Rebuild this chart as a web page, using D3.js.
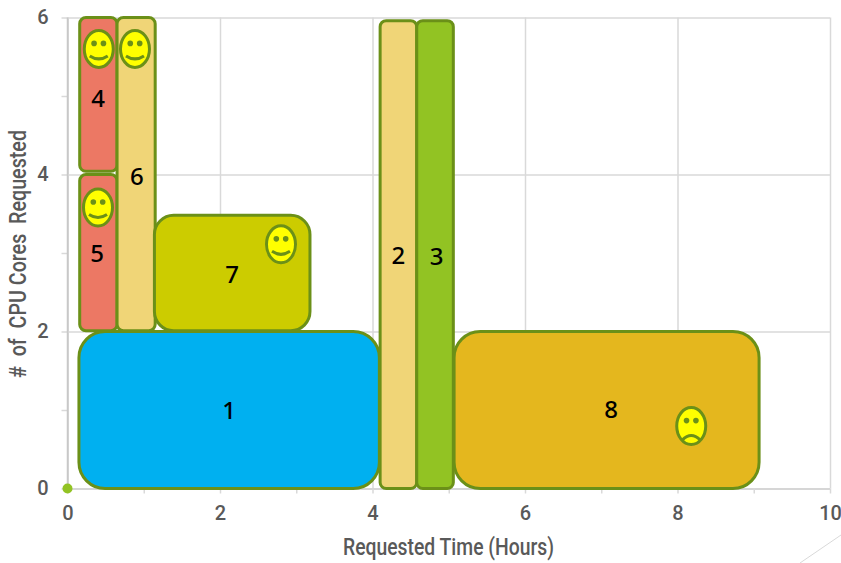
<!DOCTYPE html>
<html>
<head>
<meta charset="utf-8">
<script src="https://cdn.jsdelivr.net/npm/d3@7"></script>
<style>
  html, body { margin: 0; padding: 0; background: #fff; }
  svg { display: block; }
  .axis path { display: none; }
  .axis line { stroke: #d9d9d9; stroke-width: 1.5; }
  .axis text { font-family: Roboto, sans-serif; font-size: 20px; font-weight: 500; fill: #595959; }
  .title { font-family: Roboto, sans-serif; font-size: 23px; font-weight: 500; fill: #595959; }
  .label { font-family: "Noto Sans", sans-serif; font-size: 24px; font-weight: 500; fill: #000; text-anchor: middle; dominant-baseline: central; }
</style>
</head>
<body>
<div id="graph"></div>
<script>
var jobIds = [1, 2, 3, 4, 5, 6, 7, 8];
var xStart = [0.15, 4.1, 4.58, 0.16, 0.16, 0.65, 1.14, 5.07];
var xEnd = [4.09, 4.58, 5.06, 0.65, 0.65, 1.15, 3.18, 9.07];
var yStart = [0, 0, 0, 4.04, 2.01, 2.01, 2.01, 0];
var yEnd = [2, 5.96, 5.96, 6, 4, 6, 3.48, 2];
var fills = ["#00b0f0", "#f0d577", "#92c323", "#ec7864", "#ec7864", "#f0d577", "#cccc00", "#e4b71e"];
var labelX = [2.12, 4.34, 4.84, 0.4, 0.39, 0.91, 2.16, 7.13];
var labelY = [1.0, 2.97, 2.96, 4.97, 3.0, 3.98, 2.73, 1.01];

var faceX = [0.41, 0.885, 0.4, 2.8, 8.18];
var faceY = [5.6, 5.6, 3.58, 3.11, 0.795];
var faceHappy = [true, true, true, true, false];

var xTicks = [0, 2, 4, 6, 8, 10];
var xMinorTicks = [1, 3, 5, 7, 9];
var yTicks = [0, 2, 4, 6];
var yMinorTicks = [1, 3, 5];

var width = 841, height = 563;
var margin = { top: 17.5, left: 67.5, bottom: 74.5, right: 11 };
var chartWidth = width - margin.left - margin.right;
var chartHeight = height - margin.top - margin.bottom;
var edge = "#6b9018";

var svg = d3.select("#graph").append("svg").attr("width", width).attr("height", height);
var axisLayer = svg.append("g").attr("transform", "translate(" + [margin.left, margin.top] + ")");
var chartLayer = svg.append("g").attr("transform", "translate(" + [margin.left, margin.top] + ")");

var xScale = d3.scaleLinear().domain([0, 10]).range([0, chartWidth]);
var yScale = d3.scaleLinear().domain([0, 6]).range([chartHeight, 0]);

renderAxis();
renderBoxes();
renderFaces();
renderText();

function renderAxis() {
  // gridlines plus labelled ticks
  axisLayer.append("g").attr("class", "axis x")
    .attr("transform", "translate(0," + chartHeight + ")")
    .call(d3.axisBottom(xScale).tickValues(xTicks).tickFormat(d3.format("d")).tickSizeInner(-chartHeight).tickSizeOuter(0).tickPadding(17));
  axisLayer.append("g").attr("class", "axis y")
    .call(d3.axisLeft(yScale).tickValues(yTicks).tickFormat(d3.format("d")).tickSizeInner(-chartWidth).tickSizeOuter(0).tickPadding(19));

  // short tick stubs outside the plot
  axisLayer.append("g").attr("class", "axis")
    .attr("transform", "translate(0," + chartHeight + ")")
    .call(d3.axisBottom(xScale).tickValues(xTicks.concat(xMinorTicks)).tickSize(5).tickFormat(""));
  axisLayer.append("g").attr("class", "axis")
    .call(d3.axisLeft(yScale).tickValues(yTicks.concat(yMinorTicks)).tickSize(6).tickFormat(""));

  axisLayer.selectAll(".x .tick:first-of-type line, .y .tick:first-of-type line").style("stroke", "#c8c8c8");
  axisLayer.append("line").attr("x1", xScale(0)).attr("x2", xScale(0))
    .attr("y1", yScale(0)).attr("y2", yScale(6)).style("stroke", "#c8c8c8").style("stroke-width", 1.5);

  // origin dot
  chartLayer.append("circle").attr("cx", xScale(0)).attr("cy", yScale(0)).attr("r", 5).attr("fill", "#92c323");

  // stray line in the bottom right corner
  svg.append("line").attr("x1", 800).attr("y1", 563).attr("x2", 841).attr("y2", 535)
    .style("stroke", "#d9d9d9").style("stroke-width", 1);
}

function renderBoxes() {
  chartLayer.selectAll(".box").data(jobIds).enter().append("rect")
    .attr("class", "box")
    .attr("x", function(d, i) { return xScale(xStart[i]); })
    .attr("y", function(d, i) { return yScale(yEnd[i]); })
    .attr("width", function(d, i) { return xScale(xEnd[i]) - xScale(xStart[i]); })
    .attr("height", function(d, i) { return yScale(yStart[i]) - yScale(yEnd[i]); })
    .attr("rx", function(d, i) {
      var w = xScale(xEnd[i]) - xScale(xStart[i]);
      var h = yScale(yStart[i]) - yScale(yEnd[i]);
      return Math.min(w, h) / 6;
    })
    .attr("fill", function(d, i) { return fills[i]; })
    .attr("stroke", edge)
    .attr("stroke-width", 3);
}

function renderFaces() {
  var face = chartLayer.selectAll(".face").data(faceHappy).enter().append("g")
    .attr("class", "face")
    .attr("transform", function(d, i) { return "translate(" + [xScale(faceX[i]), yScale(faceY[i])] + ")"; });

  face.append("ellipse").attr("rx", 14.5).attr("ry", 18.5)
    .attr("fill", "#ffff00").attr("stroke", edge).attr("stroke-width", 3);
  face.append("circle").attr("cx", -4.7).attr("cy", -5.5).attr("r", 2.8).attr("fill", edge);
  face.append("circle").attr("cx", 4.7).attr("cy", -5.5).attr("r", 2.8).attr("fill", edge);
  face.append("path")
    .attr("d", function(d) { return d ? "M-9,7Q0,13 9,7" : "M-9,14Q0,5 9,14"; })
    .attr("fill", "none").attr("stroke", edge).attr("stroke-width", 3);
}

function renderText() {
  chartLayer.selectAll(".label").data(jobIds).enter().append("text")
    .attr("class", "label")
    .attr("x", function(d, i) { return xScale(labelX[i]); })
    .attr("y", function(d, i) { return yScale(labelY[i]) - 1; })
    .text(function(d) { return d; });

  svg.append("text").attr("class", "title")
    .attr("x", 448.5).attr("y", 555).attr("text-anchor", "middle")
    .attr("textLength", 211).attr("lengthAdjust", "spacingAndGlyphs")
    .text("Requested Time (Hours)");
  svg.append("text").attr("class", "title")
    .attr("transform", "translate(26,254) rotate(-90)").attr("text-anchor", "middle")
    .attr("textLength", 248).attr("lengthAdjust", "spacingAndGlyphs")
    .style("white-space", "pre")
    .text("#  of  CPU Cores  Requested");
}
</script>
</body>
</html>
